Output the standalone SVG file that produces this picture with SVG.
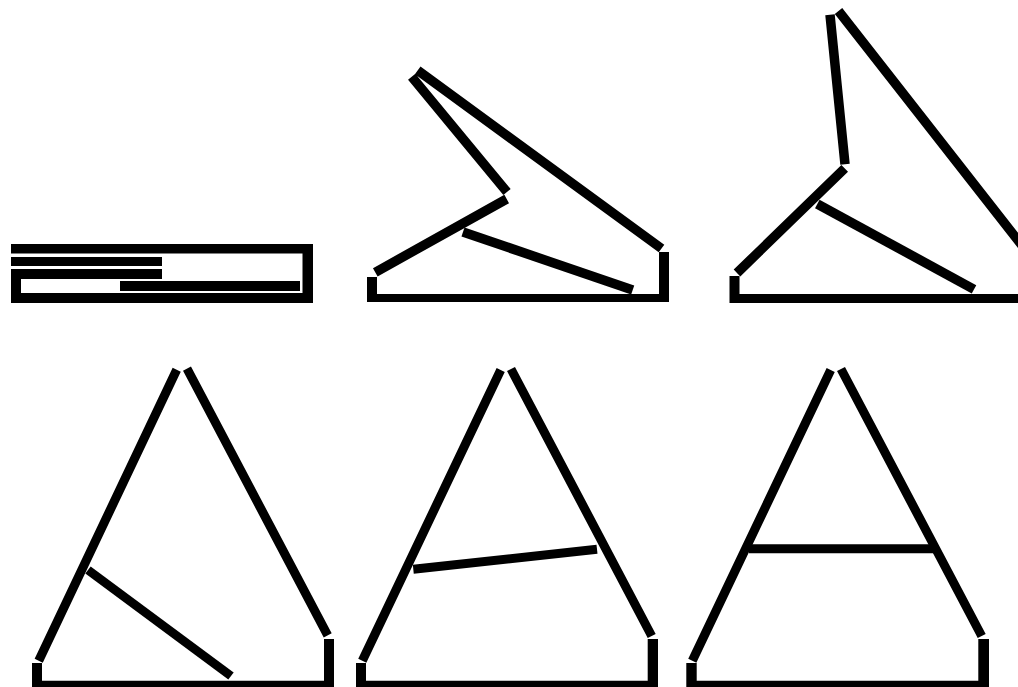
<svg xmlns="http://www.w3.org/2000/svg" width="1018" height="687" viewBox="0 0 1018 687">
<style>
.f{fill:#000;stroke:none}
.b{fill:#000;stroke:none}
.s{stroke:#000;stroke-width:9.5;stroke-linecap:butt;fill:none}
.t{stroke:#000;stroke-width:9;stroke-linecap:butt;fill:none}
</style>
<rect width="1018" height="687" fill="#fff"/>
<g id="panel-1">
<path class="f" d="M11 244H313V303H11V269H162V279H21V293H302.5V253.5H11Z"/>
<rect class="b" x="11" y="257" width="151" height="9"/>
<rect class="b" x="120" y="281" width="180" height="10"/>
</g>
<g id="panel-2">
<path class="f" d="M367 277H377V294H659V252H669V302H367Z"/>
<path class="s" d="M417.7 70.3L661.5 248.5M411.7 76.7L507 192M506.7 199L375.3 272.3"/>
<path class="s" d="M463 232L632.7 290"/>
</g>
<g id="panel-3">
<path class="f" d="M729.5 276H739.5V294H1018V303H729.5Z"/>
<path class="s" d="M838.5 11L1024 248M830 14.7L845 164.3M844.7 168.3L737 273"/>
<path class="s" d="M817.3 204L974 289.3"/>
</g>
<g id="panel-4">
<path class="f" d="M32 663H42V680.7H324V639H334V689H32Z"/>
<path class="t" d="M176.7 369.7L38.7 660.7M187 368.7L327.7 635.3"/>
<path class="t" d="M88 570L231 676"/>
</g>
<g id="panel-5">
<path class="f" d="M356 663H366V680.7H647.7V639H658V689H356Z"/>
<path class="t" d="M500.7 370L362.3 660.7M511 369L651.7 636"/>
<path class="t" d="M413.3 569.3L597 549.3"/>
</g>
<g id="panel-6">
<path class="f" d="M686.3 663H696.7V680.7H978.3V639H989V689H686.3Z"/>
<path class="t" d="M830.7 370L692.3 660.7M841 369L981.7 636"/>
<path class="t" d="M749 548.7L935 548.7"/>
</g>
</svg>
